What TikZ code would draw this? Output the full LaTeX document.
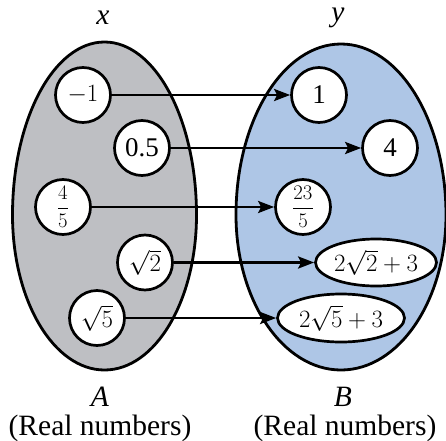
\documentclass[tikz,border=0pt]{standalone}
\usepackage{fontspec}
\setmainfont{Liberation Serif}
\usetikzlibrary{arrows.meta,shapes.geometric}
\definecolor{setgray}{RGB}{190,191,195}
\definecolor{setblue}{RGB}{174,198,230}
\tikzset{
  blob/.style={draw=black,line width=2.8pt},
  valc/.style={circle,draw=black,fill=white,line width=2.7pt,inner sep=0pt,minimum size=55pt,font=\fontsize{27}{30}\selectfont},
  fracfont/.style={font=\fontsize{21}{24}\selectfont},
  vale/.style={ellipse,draw=black,fill=white,line width=2.7pt,inner sep=-25pt,font=\fontsize{27}{30}\selectfont},
  maparrow/.style={line width=2.8pt,-{Stealth[length=16pt,width=12pt,inset=3pt]}},
  lab/.style={font=\fontsize{29.5}{32}\selectfont,inner sep=0pt}
}
\begin{document}
\begin{tikzpicture}[x=1pt,y=1pt]
\useasboundingbox (0,0) rectangle (446,440);
% sets
\path[blob,fill=setgray] (196.5,225) arc[start angle=0,end angle=180,x radius=92pt,y radius=173pt]
  arc[start angle=180,end angle=360,x radius=92pt,y radius=155pt] -- cycle;
\path[blob,fill=setblue] (446,225) arc[start angle=0,end angle=180,x radius=105pt,y radius=171pt]
  arc[start angle=180,end angle=360,x radius=105pt,y radius=155pt] -- cycle;
% domain
\node[valc] (m1) at (83,345) {$-1$};
\node[valc] (p05) at (142,292) {0.5};
\node[valc,fracfont] (f45) at (63,233) {$\displaystyle\frac{4}{5}$};
\node[valc] (s2) at (145,177.5) {$\sqrt{2}$};
\node[valc] (s5) at (97,122) {$\sqrt{5}$};
% codomain
\node[valc] (o1) at (319,345) {1};
\node[valc] (o4) at (390,292) {4};
\node[valc,fracfont] (o235) at (303,233) {$\displaystyle\frac{23}{5}$};
\node[vale,minimum width=121pt,minimum height=47pt] (e2) at (376,177.5) {$2\sqrt{2}+3$};
\node[vale,minimum width=127pt,minimum height=48pt] (e5) at (341,122) {$2\sqrt{5}+3$};
% arrows
\draw[maparrow] (m1.east) -- (o1.west);
\draw[maparrow] (p05.east) -- (o4.west);
\draw[maparrow] (f45.east) -- (o235.west);
\draw[maparrow] (s2.east) -- (e2.west);
\draw[maparrow] (s5.east) -- (e5.west);
% labels
\node[lab] (lx) at (103,422) {\textit{x}};
\node[lab] (ly) at (338,422) {\textit{y}};
\node[lab] (lA) at (100,43) {\textit{A}};
\node[lab] (lB) at (343,43) {\textit{B}};
\node[lab] (rA) at (100,12) {(Real numbers)};
\node[lab] (rB) at (345,12) {(Real numbers)};
\end{tikzpicture}
\end{document}
